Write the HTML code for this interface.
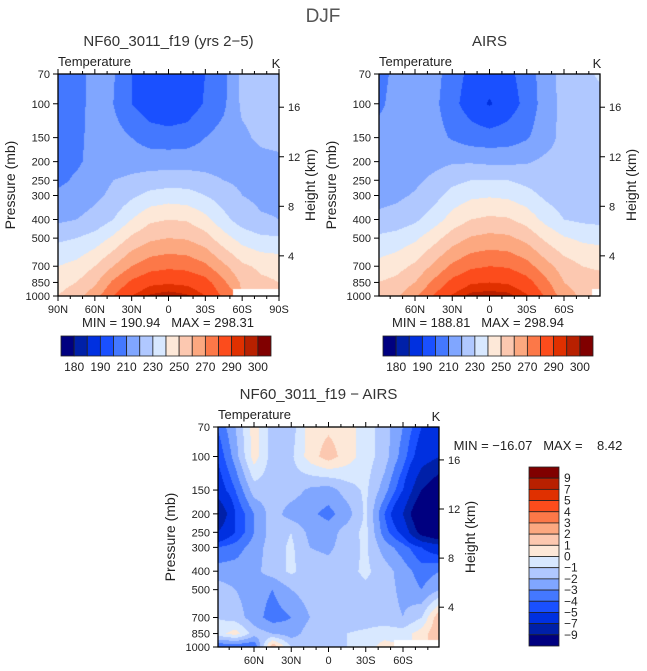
<!DOCTYPE html>
<html><head><meta charset="utf-8">
<style>
body{margin:0;background:#fff;width:647px;height:671px;overflow:hidden;position:relative;font-family:"Liberation Sans",sans-serif;}
canvas{position:absolute;}
svg{position:absolute;left:0;top:0;}
</style></head>
<body>
<canvas id="c1" width="221" height="222" style="left:58px;top:74px"></canvas>
<canvas id="c2" width="221" height="222" style="left:379px;top:74px"></canvas>
<canvas id="c3" width="221" height="220" style="left:218px;top:427px"></canvas>
<svg id="ov" width="647" height="671" font-family="Liberation Sans, sans-serif" fill="#222"></svg>
<script>
const pressures=[70,100,150,200,250,300,400,500,700,850,1000];
const lats=[90,75,60,45,30,15,0,-15,-30,-45,-60,-75,-90];
const heights=[4,8,12,16];
const levelsT=[180,185,190,200,210,220,230,240,250,260,270,280,290,295,300];
const levelsD=[-9,-7,-5,-4,-3,-2,-1,0,1,2,3,4,5,7,9];
const labelsT=["180","190","210","230","250","270","290","300"];
const labelsD=["9","7","5","4","3","2","1","0","−1","−2","−3","−4","−5","−7","−9"];
const colors=["#000080","#0020a8","#0030e0","#1a50ff","#4478ff","#80a6ff","#b0c8ff","#d8e8ff","#fde8d8","#fcc8b0","#fca880","#fc7848","#fc4c1c","#e03000","#b82000","#800000"];
const model=[
[205,207,213,211,200,195,194,195,200,207,223,225,225],
[205,206,214,210,200,194,192,194,201,208,222,223,222],
[205,207,214,214,210,205,204,205,210,214,218,222,223],
[205,208,214,215,216,216,216,216,216,215,215,217,218],
[207,212,216,220,222,224,225,225,223,220,218,217,217],
[213,215,218,222,228,233,235,234,230,225,220,218,218],
[218,220,223,230,240,248,250,249,243,233,225,221,220],
[228,230,234,242,252,258,260,259,254,244,236,232,231],
[240,243,250,260,270,276,278,277,272,262,252,248,247],
[246,250,258,272,282,288,289,288,284,272,258,252,250],
[250,256,266,280,290,296,298,296,290,278,null,null,null]];
const airs=[
[207,212,214,214,205,197,195,197,205,215,224,227,232],
[208,213,214,213,203,195,189,195,203,215,223,225,226],
[213,214,215,214,209,205,204,205,209,216,223,225,225],
[214,215,216,217,219,219,218,218,219,222,223,224,224],
[215,216,218,222,227,230,230,230,227,224,223,223,223],
[217,218,221,226,234,238,239,238,234,228,224,223,223],
[222,224,228,235,244,250,252,251,246,237,230,228,227],
[232,234,238,246,255,261,263,262,257,248,241,238,237],
[243,246,252,262,272,278,280,279,274,264,255,250,248],
[250,253,260,272,283,289,290,289,284,273,260,255,255],
[252,258,268,281,291,297,298,297,291,279,265,258,null]];
const diff=[
[-4,-2,0.5,-1.5,-1.5,0.5,0.8,0.5,-0.5,-1.5,-3,-5,-6],
[-5,-2.5,0.5,-1.5,-1.2,0.5,1.5,0.5,-0.5,-1.5,-3.5,-6,-7],
[-6,-4,-1.5,-1.5,-1.5,-2.2,-2.5,-1.5,-0.8,-2.5,-5,-9,-11],
[-9.5,-5,-3,-1.5,-2.5,-2.8,-3.3,-2.5,-0.8,-4,-7,-12,-14],
[-7,-5,-3,-1.5,-1,-2.3,-2.5,-1.5,-0.7,-3.5,-5.5,-10,-12],
[-4,-3.5,-2.5,-1.5,-0.8,-2,-2.2,-1.5,-0.8,-2.5,-3.5,-5,-6],
[-2.5,-2.5,-2.3,-1.5,-0.8,-1.5,-1.6,-1.3,-0.8,-1.5,-2.5,-3.5,-3],
[-1.5,-2,-2.5,-3,-2,-1.5,-1.5,-1.5,-1.2,-1.5,-2.3,-3,-2],
[-1,-1.5,-2.5,-3.5,-3,-2,-1.5,-1.5,-1.5,-1.5,-2,-1,2],
[-0.5,0.5,-1.5,-2,-2.5,-1.5,-1.5,-1,-0.8,-0.5,-0.5,0.5,2],
[-4,-4,-4,2,-1,-1.2,-1.2,-1,-0.5,0.5,null,null,null]];

const LP0=Math.log(70),LP1=Math.log(1000);
function pFrac(p){return (Math.log(p)-LP0)/(LP1-LP0);}
function hexRGB(h){return [parseInt(h.substr(1,2),16),parseInt(h.substr(3,2),16),parseInt(h.substr(5,2),16)];}
const rgb=colors.map(hexRGB);
function sample(grid,lat,p){
  let fi=(90-lat)/15; if(fi<0)fi=0; if(fi>12)fi=12;
  let i0=Math.min(11,Math.floor(fi)),tx=fi-i0;
  let lp=Math.log(p),j0=0;
  for(let j=0;j<pressures.length-1;j++){if(lp>=Math.log(pressures[j]))j0=j;}
  let ty=(lp-Math.log(pressures[j0]))/(Math.log(pressures[j0+1])-Math.log(pressures[j0]));
  ty=Math.max(0,Math.min(1,ty));
  const ni=tx<0.5?i0:i0+1,nj=ty<0.5?j0:j0+1;
  if(grid[nj][ni]===null)return null;
  const c=[[grid[j0][i0],(1-tx)*(1-ty)],[grid[j0][i0+1],tx*(1-ty)],[grid[j0+1][i0],(1-tx)*ty],[grid[j0+1][i0+1],tx*ty]];
  let s=0,w=0;for(const [v,ww] of c){if(v!==null){s+=v*ww;w+=ww;}}
  return w>0?s/w:null;
}
function drawField(id,grid,levels,latL,latR){
  const cv=document.getElementById(id),ctx=cv.getContext('2d');
  const W=cv.width,H=cv.height,img=ctx.createImageData(W,H);
  for(let y=0;y<H;y++){
    const p=Math.exp(LP0+(y+0.5)/H*(LP1-LP0));
    for(let x=0;x<W;x++){
      const lat=latL+(x+0.5)/W*(latR-latL);
      const v=sample(grid,lat,p);
      let c=[255,255,255];
      if(v!==null){let k=0;while(k<levels.length&&v>=levels[k])k++;c=rgb[k];}
      const o=(y*W+x)*4;img.data[o]=c[0];img.data[o+1]=c[1];img.data[o+2]=c[2];img.data[o+3]=255;
    }
  }
  ctx.putImageData(img,0,0);
}
drawField('c1',model,levelsT,90,-90);
drawField('c2',airs,levelsT,89,-89);
drawField('c3',diff,levelsD,89,-89);

const svg=document.getElementById('ov');
const NS='http://www.w3.org/2000/svg';
function el(tag,attrs,parent){const e=document.createElementNS(NS,tag);for(const k in attrs)e.setAttribute(k,attrs[k]);(parent||svg).appendChild(e);return e;}
function txt(s,x,y,size,anchor,parent){const t=el('text',{x:x,y:y,'font-size':size,'text-anchor':anchor||'middle'},parent);t.textContent=s;return t;}
const HS=6.74,P0=1119;
function panel(name,x0,x1,y0,y1,latL,latR,xlabels,title,minmax,mmx,mmy){
  const g=el('g',{});
  
  
  const H=y1-y0;
  const X=lat=>x0+(latL-lat)/(latL-latR)*(x1-x0);
  const Y=p=>y0+pFrac(p)*H;
  el('rect',{x:x0,y:y0,width:x1-x0,height:H,fill:'none',stroke:'#000','stroke-width':1.3},g);
  for(const p of pressures){const y=Y(p);el('line',{x1:x0-5,x2:x0,y1:y,y2:y,stroke:'#000'},g);txt(String(p),x0-8,y+4,11,'end',g);}
  for(const h of heights){const y=Y(P0*Math.exp(-h/HS));el('line',{x1:x1,x2:x1+5,y1:y,y2:y,stroke:'#000'},g);txt(String(h),x1+9,y+4,11,'start',g);}
  for(let lat=90;lat>=-90;lat-=10){if(lat>latL||lat<latR)continue;const x=X(lat);const maj=lat%30===0;
    el('line',{x1:x,x2:x,y1:y1,y2:y1+(maj?5:3),stroke:'#000'},g);
    el('line',{x1:x,x2:x,y1:y0,y2:y0-(maj?5:3),stroke:'#000'},g);}
  for(const [lat,s] of xlabels){txt(s,X(lat),y1+17,11,'middle',g);}
  txt('Temperature',x0,y0-8,13,'start',g);
  txt('K',x1-3,y0-6,13,'middle',g);
  const pl=txt('Pressure (mb)',0,0,14,'middle',g);pl.setAttribute('transform',`translate(${x0-43},${(y0+y1)/2}) rotate(-90)`);
  const hl=txt('Height (km)',0,0,14,'middle',g);hl.setAttribute('transform',`translate(${x1+36},${(y0+y1)/2}) rotate(-90)`);
  const t=txt(title,(x0+x1)/2+(name==='diff-panel'?-10:0),y0-28,15,'middle',g);t.setAttribute('fill','#333');
  txt(minmax,mmx,mmy,13,'middle',g);
}
const xl1=[[90,'90N'],[60,'60N'],[30,'30N'],[0,'0'],[-30,'30S'],[-60,'60S'],[-90,'90S']];
const xl2=[[60,'60N'],[30,'30N'],[0,'0'],[-30,'30S'],[-60,'60S']];
const S='\u00a0';
panel('model-panel',58,279,74,296,90,-90,xl1,'NF60_3011_f19 (yrs 2−5)','MIN'+S+'='+S+'190.94'+S+S+S+'MAX'+S+'='+S+'298.31',168,327);
panel('airs-panel',379,600,74,296,89,-89,xl2,'AIRS','MIN'+S+'='+S+'188.81'+S+S+S+'MAX'+S+'='+S+'298.94',478,327);
panel('diff-panel',218,439,427,647,89,-89,xl2,'NF60_3011_f19 − AIRS','MIN'+S+'='+S+'−16.07'+S+S+S+'MAX'+S+'='+S+S+S+S+'8.42',538,450);
const dj=txt('DJF',323,22,19,'middle');dj.setAttribute('fill','#555');



function hbar(name,x0,x1,y0,y1){
  const g=el('g',{});
  
  
  const w=(x1-x0)/colors.length;
  colors.forEach((c,i)=>{el('rect',{x:x0+i*w,y:y0,width:w,height:y1-y0,fill:c,stroke:'#222','stroke-width':0.8},g);});
  labelsT.forEach((s,i)=>{txt(s,x0+(2*i+1)*w,y1+15,12,'middle',g);});
}
hbar('model-colorbar',61,271,336,356);
hbar('airs-colorbar',383,593,336,356);
(function(){
  const g=el('g',{});
  
  
  const x0=529,x1=559,y0=467,y1=646,h=(y1-y0)/colors.length;
  colors.slice().reverse().forEach((c,i)=>{el('rect',{x:x0,y:y0+i*h,width:x1-x0,height:h,fill:c,stroke:'#222','stroke-width':0.8},g);});
  labelsD.forEach((s,i)=>{txt(s,x1+5,y0+(i+1)*h+4,12,'start',g);});
})();
</script>
</body></html>
